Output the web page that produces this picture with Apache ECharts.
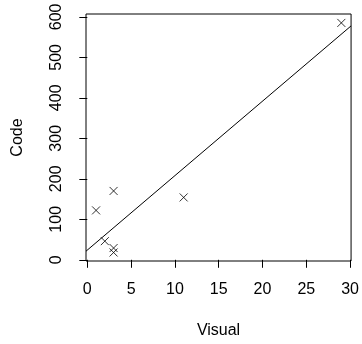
<!DOCTYPE html>
<html>
<head>
<meta charset="utf-8">
<script src="https://cdn.jsdelivr.net/npm/echarts@6/dist/echarts.min.js"></script>
<style>
  html, body { margin: 0; padding: 0; background: #fff; }
  #chart { width: 362px; height: 344px; }
</style>
</head>
<body>
<div id="chart"></div>
<script>
// values
const visual = [1, 2, 3, 3, 3, 11, 29];
const code = [122, 46, 170, 29, 18, 154, 585];
const xTicks = [0, 5, 10, 15, 20, 25, 30];
const yTicks = [0, 100, 200, 300, 400, 500, 600];

// plot region limits (R style, slightly padded past the data)
const xMin = -0.15, xMax = 30.11;
const yMin = -3, yMax = 607;

// least squares fit, like abline(lm(code ~ visual))
function fitLine(xs, ys) {
  const n = xs.length;
  const mx = xs.reduce((a, b) => a + b, 0) / n;
  const my = ys.reduce((a, b) => a + b, 0) / n;
  let sxy = 0, sxx = 0;
  for (let i = 0; i < n; i++) {
    sxy += (xs[i] - mx) * (ys[i] - my);
    sxx += (xs[i] - mx) * (xs[i] - mx);
  }
  const slope = sxy / sxx;
  return { slope: slope, intercept: my - slope * mx };
}

const fit = fitLine(visual, code);
const points = visual.map((v, i) => [v, code[i]]);
const fitData = [xMin, xMax].map((x) => [x, fit.intercept + fit.slope * x]);

const font = { fontFamily: 'Liberation Sans', fontSize: 16, color: '#000' };

const option = {
  animation: false,
  backgroundColor: '#fff',
  grid: {
    left: 86,
    right: 8,
    top: 14,
    bottom: 80,
    show: true,
    borderColor: '#000',
    borderWidth: 1,
  },
  xAxis: {
    type: 'value',
    min: xMin,
    max: xMax,
    name: 'Visual',
    nameLocation: 'middle',
    nameGap: 62,
    nameTextStyle: font,
    axisLine: { show: false },
    splitLine: { show: false },
    axisTick: {
      show: true,
      length: 8,
      customValues: xTicks,
      lineStyle: { color: '#000', width: 1 },
    },
    axisLabel: {
      ...font,
      margin: 21,
      customValues: xTicks,
    },
  },
  yAxis: {
    type: 'value',
    min: yMin,
    max: yMax,
    name: 'Code',
    nameLocation: 'middle',
    nameGap: 60,
    nameRotate: 90,
    nameTextStyle: font,
    axisLine: { show: false },
    splitLine: { show: false },
    axisTick: {
      show: true,
      length: 8,
      customValues: yTicks,
      lineStyle: { color: '#000', width: 1 },
    },
    axisLabel: {
      ...font,
      margin: 21,
      rotate: 90,
      customValues: yTicks,
    },
  },
  series: [
    {
      type: 'line',
      data: fitData,
      showSymbol: false,
      lineStyle: { color: '#000', width: 1 },
      clip: true,
      silent: true,
    },
    {
      type: 'scatter',
      data: points,
      symbol: 'path://M0,0L10,10M10,0L0,10',
      symbolSize: 8,
      itemStyle: { color: 'transparent', borderColor: '#000', borderWidth: 1 },
    },
  ],
};

const chart = echarts.init(document.getElementById('chart'));
chart.setOption(option);
</script>
</body>
</html>
